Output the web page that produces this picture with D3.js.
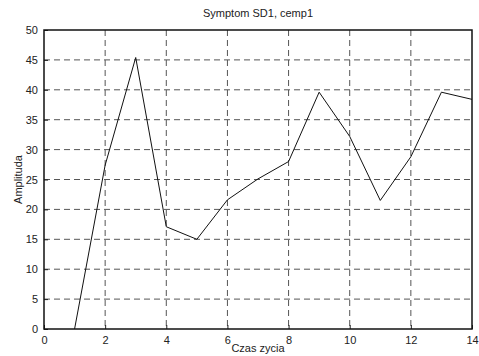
<!DOCTYPE html>
<html>
<head>
<meta charset="utf-8">
<script src="https://cdn.jsdelivr.net/npm/d3@7"></script>
<style>
  body { margin: 0; background: #fff; }
  text { font-family: "Liberation Sans", Arial, sans-serif; }
</style>
</head>
<body>
<div class="chart"></div>
<script>
// chart values
const czas = [1, 2, 3, 4, 5, 6, 7, 8, 9, 10, 11, 12, 13, 14];
const amplituda = [0, 27.4, 45.4, 17.1, 15.0, 21.6, 25.1, 28.0, 39.6, 32.2, 21.5, 28.8, 39.6, 38.4];
const xTicks = [0, 2, 4, 6, 8, 10, 12, 14];
const yTicks = [0, 5, 10, 15, 20, 25, 30, 35, 40, 45, 50];

const svgWidth = 479;
const svgHeight = 356;
const margin = { top: 30, right: 7, bottom: 27, left: 44 };
const width = svgWidth - margin.left - margin.right;
const height = svgHeight - margin.top - margin.bottom;

const svg = d3.select(".chart")
  .append("svg")
  .attr("width", svgWidth)
  .attr("height", svgHeight);

const chartGroup = svg.append("g")
  .attr("transform", `translate(${margin.left}, ${margin.top})`);

const x = d3.scaleLinear().domain([0, 14]).range([0, width]);
const y = d3.scaleLinear().domain([0, 50]).range([height, 0]);

// dashed grid
chartGroup.append("g")
  .selectAll("line.v")
  .data(xTicks.slice(1, -1))
  .enter()
  .append("line")
  .attr("x1", d => x(d)).attr("x2", d => x(d))
  .attr("y1", 0).attr("y2", height)
  .attr("stroke", "#555")
  .attr("stroke-dasharray", "6,4");

chartGroup.append("g")
  .selectAll("line.h")
  .data(yTicks.slice(1, -1))
  .enter()
  .append("line")
  .attr("x1", 0).attr("x2", width)
  .attr("y1", d => y(d)).attr("y2", d => y(d))
  .attr("stroke", "#555")
  .attr("stroke-dasharray", "6,4");

// axes with inward ticks
const xAxis = d3.axisBottom(x).tickValues(xTicks).tickSize(-4).tickPadding(7);
const yAxis = d3.axisLeft(y).tickValues(yTicks).tickSize(-4).tickPadding(6);

const gx = chartGroup.append("g")
  .attr("transform", `translate(0, ${height})`)
  .call(xAxis);
const gy = chartGroup.append("g").call(yAxis);

[gx, gy].forEach(g => {
  g.select(".domain").remove();
  g.selectAll("text").attr("font-size", 11).attr("fill", "#222")
    .style("font-family", "Liberation Sans, Arial, sans-serif");
  g.selectAll(".tick line").attr("stroke", "#222");
});

// box
chartGroup.append("rect")
  .attr("x", 0).attr("y", 0)
  .attr("width", width).attr("height", height)
  .attr("fill", "none")
  .attr("stroke", "#111")
  .attr("stroke-width", 1.5);

// data line
const line = d3.line()
  .x((d, i) => x(czas[i]))
  .y(d => y(d));

chartGroup.append("path")
  .datum(amplituda)
  .attr("d", line)
  .attr("fill", "none")
  .attr("stroke", "#111")
  .attr("stroke-width", 1);

// labels
svg.append("text")
  .attr("x", margin.left + width / 2)
  .attr("y", 17)
  .attr("text-anchor", "middle")
  .attr("font-size", 11)
  .attr("fill", "#222")
  .text("Symptom SD1, cemp1");

svg.append("text")
  .attr("x", margin.left + width / 2)
  .attr("y", 352)
  .attr("text-anchor", "middle")
  .attr("font-size", 11)
  .attr("fill", "#222")
  .text("Czas zycia");

svg.append("text")
  .attr("transform", `translate(22, ${margin.top + height / 2}) rotate(-90)`)
  .attr("text-anchor", "middle")
  .attr("font-size", 11)
  .attr("fill", "#222")
  .text("Amplituda");
</script>
</body>
</html>
